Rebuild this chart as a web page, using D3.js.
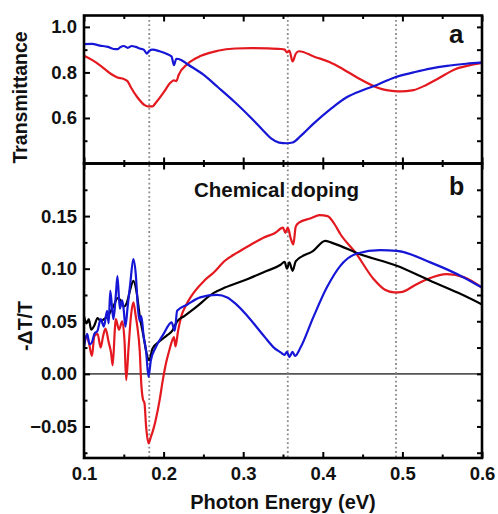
<!DOCTYPE html>
<html>
<head>
<meta charset="utf-8">
<script src="https://cdn.jsdelivr.net/npm/d3@7"></script>
<style>
  html, body { margin: 0; padding: 0; background: #fff; }
  svg { display: block; }
  text { font-family: "Liberation Sans", Arial, sans-serif; font-weight: bold; fill: #111; }
</style>
</head>
<body>
<svg id="chart" width="498" height="514"></svg>
<script>
// ---------------- DATA ----------------
// Panel a: Transmittance
const transRedX = [0.100,0.110,0.121,0.134,0.142,0.150,0.155,0.159,0.167,0.176,0.180,0.186,0.190,0.200,0.209,0.213,0.216,0.219,0.230,0.247,0.268,0.290,0.310,0.330,0.347,0.352,0.355,0.358,0.362,0.366,0.370,0.390,0.409,0.425,0.443,0.468,0.480,0.493,0.505,0.514,0.530,0.544,0.567,0.585,0.600];
const transRedY = [0.873,0.855,0.829,0.793,0.778,0.771,0.760,0.734,0.691,0.657,0.651,0.651,0.666,0.712,0.756,0.765,0.762,0.790,0.837,0.873,0.895,0.905,0.907,0.906,0.903,0.900,0.888,0.896,0.848,0.882,0.893,0.868,0.845,0.815,0.778,0.734,0.722,0.717,0.718,0.722,0.745,0.771,0.815,0.832,0.842];

const transBlueX = [0.100,0.110,0.120,0.130,0.137,0.142,0.146,0.150,0.155,0.160,0.165,0.170,0.175,0.179,0.182,0.186,0.195,0.205,0.210,0.213,0.216,0.222,0.230,0.250,0.268,0.290,0.310,0.325,0.335,0.345,0.355,0.362,0.372,0.388,0.410,0.430,0.450,0.468,0.490,0.514,0.535,0.556,0.580,0.600];
const transBlueY = [0.924,0.925,0.918,0.912,0.903,0.902,0.912,0.916,0.908,0.916,0.912,0.905,0.900,0.883,0.895,0.900,0.893,0.880,0.870,0.832,0.860,0.855,0.836,0.790,0.736,0.668,0.600,0.545,0.510,0.492,0.489,0.492,0.520,0.574,0.640,0.691,0.722,0.745,0.778,0.800,0.817,0.829,0.838,0.844];

// Panel b: -dT/T, chemical doping
const dtBlackX = [0.100,0.103,0.106,0.109,0.113,0.117,0.121,0.125,0.130,0.134,0.138,0.142,0.146,0.150,0.154,0.158,0.162,0.166,0.170,0.175,0.179,0.182,0.186,0.195,0.205,0.211,0.217,0.226,0.240,0.263,0.277,0.305,0.330,0.347,0.352,0.355,0.358,0.362,0.366,0.388,0.403,0.410,0.422,0.441,0.493,0.535,0.570,0.600];
const dtBlackY = [0.055,0.048,0.052,0.042,0.046,0.053,0.050,0.052,0.055,0.060,0.066,0.072,0.070,0.064,0.068,0.080,0.0885,0.078,0.055,0.035,0.018,0.013,0.024,0.031,0.037,0.041,0.050,0.055,0.063,0.077,0.082,0.090,0.098,0.1037,0.1065,0.100,0.106,0.098,0.107,0.117,0.1265,0.125,0.1217,0.1154,0.1027,0.0885,0.077,0.066];

const dtRedX = [0.100,0.103,0.106,0.110,0.113,0.117,0.121,0.124,0.127,0.131,0.134,0.136,0.139,0.140,0.144,0.148,0.151,0.153,0.156,0.159,0.162,0.165,0.167,0.170,0.172,0.174,0.176,0.178,0.181,0.184,0.187,0.190,0.195,0.199,0.203,0.207,0.211,0.213,0.215,0.218,0.222,0.228,0.234,0.251,0.263,0.277,0.292,0.310,0.326,0.340,0.350,0.353,0.356,0.360,0.363,0.366,0.370,0.385,0.396,0.406,0.415,0.422,0.441,0.464,0.478,0.490,0.500,0.515,0.531,0.556,0.577,0.600];
const dtRedY = [0.028,0.036,0.030,0.017,0.036,0.038,0.025,0.036,0.043,0.030,0.020,0.008,0.045,0.052,0.042,0.050,0.030,-0.006,0.025,0.055,0.068,0.055,0.045,0.022,-0.010,-0.024,-0.028,-0.050,-0.066,-0.060,-0.053,-0.044,-0.025,-0.006,0.010,0.022,0.032,0.035,0.026,0.040,0.054,0.065,0.073,0.0885,0.0964,0.1075,0.115,0.123,0.1296,0.134,0.139,0.134,0.139,0.128,0.123,0.140,0.1438,0.148,0.151,0.150,0.142,0.133,0.1154,0.090,0.080,0.0775,0.078,0.084,0.090,0.0949,0.092,0.082];

const dtBlueX = [0.100,0.104,0.107,0.110,0.113,0.117,0.121,0.125,0.129,0.131,0.133,0.135,0.137,0.140,0.142,0.145,0.148,0.150,0.152,0.155,0.158,0.162,0.165,0.168,0.170,0.172,0.175,0.178,0.181,0.184,0.190,0.200,0.210,0.214,0.217,0.230,0.246,0.267,0.280,0.290,0.305,0.326,0.340,0.347,0.352,0.355,0.358,0.362,0.365,0.372,0.388,0.405,0.422,0.443,0.472,0.493,0.535,0.577,0.600];
const dtBlueY = [0.025,0.038,0.028,0.030,0.038,0.041,0.052,0.045,0.060,0.048,0.079,0.065,0.052,0.075,0.093,0.062,0.070,0.060,0.045,0.065,0.085,0.109,0.095,0.060,0.050,0.055,0.035,0.022,-0.003,0.013,0.025,0.038,0.049,0.041,0.060,0.066,0.0727,0.075,0.0727,0.067,0.0553,0.036,0.024,0.0205,0.018,0.021,0.016,0.021,0.017,0.025,0.0537,0.082,0.1027,0.1144,0.1176,0.117,0.106,0.0917,0.082];

// Marker energies (dotted lines)
const markerX = [0.182, 0.356, 0.492];

// Tick values
const xMajorTicks = [0.1, 0.2, 0.3, 0.4, 0.5, 0.6];
const xMinorTicks = [0.15, 0.25, 0.35, 0.45, 0.55];
const aMajorTicks = [0.6, 0.8, 1.0];
const aMinorTicks = [0.5, 0.7, 0.9];
const bMajorTicks = [-0.05, 0.00, 0.05, 0.10, 0.15];
const bMinorTicks = [-0.075, -0.025, 0.025, 0.075, 0.125, 0.175];

// ---------------- LAYOUT ----------------
const L = 84, R = 482, T = 15.5, M = 163.5, B = 458;
const svg = d3.select("#chart");

const x = d3.scaleLinear().domain([0.1, 0.6]).range([L, R]);
const yA = d3.scaleLinear().domain([0.4, 1.05]).range([M, T]);
const yB = d3.scaleLinear().domain([-0.08, 0.20]).range([B, M]);

const RED = "#e3191f", BLUE = "#1616d6", BLACK = "#000";

function zip(xs, ys) { return xs.map((v, i) => [v, ys[i]]); }

// clip paths
const defs = svg.append("defs");
defs.append("clipPath").attr("id", "clipA").append("rect").attr("x", L).attr("y", T).attr("width", R - L).attr("height", M - T);
defs.append("clipPath").attr("id", "clipB").append("rect").attr("x", L).attr("y", M).attr("width", R - L).attr("height", B - M);

// zero line in panel b
svg.append("line").attr("x1", L).attr("x2", R).attr("y1", yB(0)).attr("y2", yB(0))
  .attr("stroke", "#555").attr("stroke-width", 1.6);

// dotted marker lines
svg.selectAll(".marker").data(markerX).join("line")
  .attr("x1", d => x(d)).attr("x2", d => x(d))
  .attr("y1", T).attr("y2", B)
  .attr("stroke", "#8a8a8a").attr("stroke-width", 1.8)
  .attr("stroke-dasharray", "1.8,2.6");

// lines
function drawLine(g, data, yScale, color) {
  const line = d3.line().x(d => x(d[0])).y(d => yScale(d[1])).curve(d3.curveMonotoneX);
  g.append("path").datum(data).attr("d", line)
    .attr("fill", "none").attr("stroke", color).attr("stroke-width", 2.2)
    .attr("stroke-linejoin", "round");
}
const gA = svg.append("g").attr("clip-path", "url(#clipA)");
drawLine(gA, zip(transRedX, transRedY), yA, RED);
drawLine(gA, zip(transBlueX, transBlueY), yA, BLUE);

const gB = svg.append("g").attr("clip-path", "url(#clipB)");
drawLine(gB, zip(dtRedX, dtRedY), yB, RED);
drawLine(gB, zip(dtBlackX, dtBlackY), yB, BLACK);
drawLine(gB, zip(dtBlueX, dtBlueY), yB, BLUE);

// ---------------- AXES ----------------
function styleAxis(g, fontSize) {
  g.select(".domain").remove();
  g.selectAll(".tick line").attr("stroke", "#000").attr("stroke-width", 2);
  g.selectAll(".tick text").attr("font-size", fontSize + "px")
    .style("font-family", '"Liberation Sans", Arial, sans-serif').style("font-weight", "bold").attr("fill", "#111");
}
function noLabel(g) { g.selectAll(".tick text").remove(); }

// Panel a left
svg.append("g").attr("transform", `translate(${L},0)`)
  .call(d3.axisLeft(yA).tickValues(aMajorTicks).tickSize(-6).tickPadding(7).tickFormat(d3.format(".1f")))
  .call(g => styleAxis(g, 18.5));
svg.append("g").attr("transform", `translate(${L},0)`)
  .call(d3.axisLeft(yA).tickValues(aMinorTicks).tickSize(-3.5)).call(g => styleAxis(g, 18)).call(noLabel);
// Panel a right
svg.append("g").attr("transform", `translate(${R},0)`)
  .call(d3.axisRight(yA).tickValues(aMajorTicks.concat(aMinorTicks)).tickSize(-5)).call(g => styleAxis(g, 18)).call(noLabel);

// Panel b left
svg.append("g").attr("transform", `translate(${L},0)`)
  .call(d3.axisLeft(yB).tickValues(bMajorTicks).tickSize(-6).tickPadding(7).tickFormat(d3.format(".2f")))
  .call(g => styleAxis(g, 18.5));
svg.append("g").attr("transform", `translate(${L},0)`)
  .call(d3.axisLeft(yB).tickValues(bMinorTicks).tickSize(-3.5)).call(g => styleAxis(g, 18)).call(noLabel);
// Panel b right
svg.append("g").attr("transform", `translate(${R},0)`)
  .call(d3.axisRight(yB).tickValues(bMajorTicks.concat(bMinorTicks)).tickSize(-5)).call(g => styleAxis(g, 18)).call(noLabel);

// x ticks: top of a, bottom of a, top of b, bottom of b
[[T, "top"], [M, "bottom"], [M, "top"], [B, "bottom"]].forEach(([yy, side]) => {
  const mk = side === "top" ? d3.axisTop : d3.axisBottom;
  svg.append("g").attr("transform", `translate(0,${yy})`)
    .call(mk(x).tickValues(xMajorTicks).tickSize(-6)).call(g => styleAxis(g, 18)).call(noLabel);
  svg.append("g").attr("transform", `translate(0,${yy})`)
    .call(mk(x).tickValues(xMinorTicks).tickSize(-3.5)).call(g => styleAxis(g, 18)).call(noLabel);
});
// x tick labels
svg.append("g").attr("transform", `translate(0,${B})`)
  .call(d3.axisBottom(x).tickValues(xMajorTicks).tickSize(0).tickPadding(9).tickFormat(d3.format(".1f")))
  .call(g => styleAxis(g, 18.5));

// frames
svg.append("rect").attr("x", L).attr("y", T).attr("width", R - L).attr("height", M - T)
  .attr("fill", "none").attr("stroke", "#000").attr("stroke-width", 2.6);
svg.append("rect").attr("x", L).attr("y", M).attr("width", R - L).attr("height", B - M)
  .attr("fill", "none").attr("stroke", "#000").attr("stroke-width", 2.6);

// ---------------- TEXT ----------------
svg.append("text").attr("transform", `translate(27,${(T + M) / 2 + 8}) rotate(-90)`)
  .attr("text-anchor", "middle").attr("font-size", "19.5px").text("Transmittance");
svg.append("text").attr("transform", `translate(32,326) rotate(-90)`)
  .attr("text-anchor", "middle").attr("font-size", "19.5px").text("-\u0394T/T");
svg.append("text").attr("x", (L + R) / 2).attr("y", 509)
  .attr("text-anchor", "middle").attr("font-size", "20px").text("Photon Energy (eV)");
svg.append("text").attr("x", 276.5).attr("y", 197)
  .attr("text-anchor", "middle").attr("font-size", "20.5px").text("Chemical doping");
svg.append("text").attr("x", 449).attr("y", 43).attr("font-size", "26px").text("a");
svg.append("text").attr("x", 449).attr("y", 195).attr("font-size", "25px").text("b");
</script>
</body>
</html>
